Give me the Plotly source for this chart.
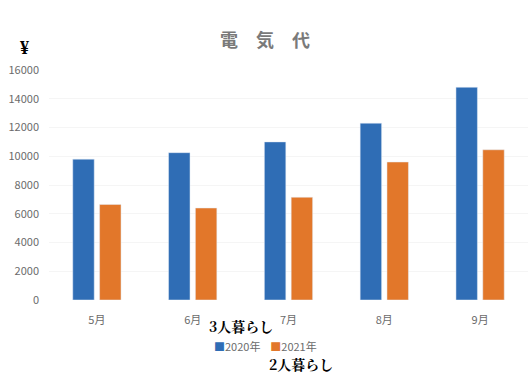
import plotly.graph_objects as go

months = ["5月", "6月", "7月", "8月", "9月"]
y2020 = [9800, 10250, 11000, 12300, 14800]
y2021 = [6650, 6400, 7150, 9600, 10450]
yticks = [0, 2000, 4000, 6000, 8000, 10000, 12000, 14000, 16000]
yticklabels = [str(v) for v in yticks]
series_names = ["2020年", "2021年"]
series_colors = ["#2f6db5", "#e2772a"]

fig = go.Figure()
fig.add_bar(x=months, y=y2020, name=series_names[0], marker_color=series_colors[0])
fig.add_bar(x=months, y=y2021, name=series_names[1], marker_color=series_colors[1])

fig.update_layout(
    width=530, height=374,
    margin=dict(l=49, r=2, t=70, b=74, autoexpand=False),
    paper_bgcolor="white", plot_bgcolor="white",
    barmode="group", bargap=0.44, bargroupgap=0.2,
    font=dict(family="Noto Sans CJK JP", color="#6b6b6b", size=11),
    title=dict(text="<b>電　気　代</b>", x=0.5, xanchor="center", y=0.89, yanchor="middle",
               font=dict(size=18, color="#7a7a7a")),
    showlegend=False,
)
fig.update_yaxes(range=[0, 16000], tickvals=yticks, ticktext=yticklabels, showgrid=True,
                 gridcolor="#f5f5f5", zeroline=False, showline=False, ticks="",
                 ticklabelstandoff=9)
fig.update_xaxes(showline=False, ticks="", ticklabelstandoff=12)

# legend drawn as text with coloured squares
legend_text = "&nbsp;&nbsp;&nbsp;&nbsp;".join(
    f"<span style='color:{c}'>■</span>{n}" for n, c in zip(series_names, series_colors)
)
fig.add_annotation(text=legend_text, xref="paper", yref="paper", x=0.451, y=-0.198,
                   xanchor="center", yanchor="middle", showarrow=False,
                   font=dict(size=11, color="#6b6b6b"))

fig.add_annotation(text="<b>¥</b>", xref="paper", yref="paper", x=-0.052, y=1.096,
                   xanchor="center", yanchor="middle",
                   showarrow=False, font=dict(family="Liberation Serif", size=18, color="black"))
fig.add_annotation(text="<b>3人暮らし</b>", xref="paper", yref="paper", x=0.401, y=-0.113,
                   xanchor="center", yanchor="middle",
                   showarrow=False, font=dict(family="Noto Serif CJK JP, serif", size=14, color="black"))
fig.add_annotation(text="<b>2人暮らし</b>", xref="paper", yref="paper", x=0.526, y=-0.278,
                   xanchor="center", yanchor="middle",
                   showarrow=False, font=dict(family="Noto Serif CJK JP, serif", size=14, color="black"))

fig.write_html("out.html", config={"displayModeBar": False},
               post_script="document.body.style.margin='0';")
